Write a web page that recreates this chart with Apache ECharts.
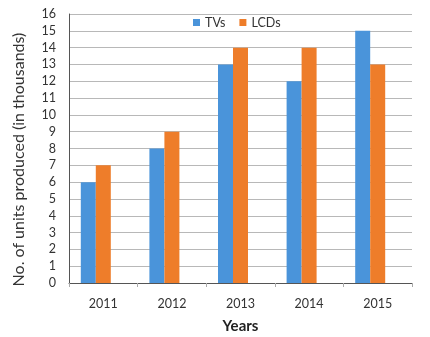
<!DOCTYPE html>
<html><head><meta charset="utf-8">
<script src="https://cdn.jsdelivr.net/npm/echarts@6/dist/echarts.min.js"></script>
<style>html,body{margin:0;padding:0;background:#fff}#c{width:430px;height:337px}</style>
</head><body><div id="c"></div>
<script>
const categories = ['2011','2012','2013','2014','2015'];
const tvs = [6, 8, 13, 12, 15];
const lcds = [7, 9, 14, 14, 13];
const seriesNames = ['TVs','LCDs'];
const font = 'Lato, "Open Sans", sans-serif';
const chart = echarts.init(document.getElementById('c'));
chart.setOption({
  animation: false,
  textStyle: {fontFamily: font},
  legend: {
    data: seriesNames, top: 11, left: 188, itemWidth: 7, itemHeight: 7, itemGap: 14,
    icon: 'rect', textStyle: {fontSize: 12.5, color: '#333', fontFamily: font}
  },
  grid: {left: 69, right: 18, top: 14, bottom: 54, outerBoundsMode: 'none', containLabel: false},
  xAxis: {
    type: 'category', data: categories,
    name: 'Years', nameLocation: 'middle', nameGap: 36,
    nameTextStyle: {fontSize: 15, fontWeight: 'bold', color: '#222', fontFamily: font},
    axisLine: {lineStyle: {color: '#555'}},
    axisTick: {show: true, length: 4, lineStyle: {color: '#aaa'}},
    axisLabel: {fontSize: 12.5, color: '#333', margin: 14, fontFamily: font}
  },
  yAxis: {
    type: 'value', min: 0, max: 16, interval: 1,
    name: 'No. of units produced (in thousands)', nameLocation: 'middle', nameGap: 42,
    nameTextStyle: {fontSize: 16, color: '#333', fontFamily: font, padding: [0, 22, 0, 0]},
    axisLine: {show: true, lineStyle: {color: '#555'}},
    axisTick: {show: false},
    axisLabel: {fontSize: 12.5, color: '#333', margin: 13, fontFamily: font},
    splitLine: {lineStyle: {color: '#b8b8b8'}}
  },
  series: [
    {name: 'TVs', type: 'bar', data: tvs, barWidth: 15, barGap: '0%', itemStyle: {color: '#4A94DA'}},
    {name: 'LCDs', type: 'bar', data: lcds, barWidth: 15, barGap: '0%', itemStyle: {color: '#EE7D2A'}},
    {name: 'spacer', type: 'bar', data: [], barWidth: 15, barGap: '0%', silent: true}
  ]
});
</script></body></html>
